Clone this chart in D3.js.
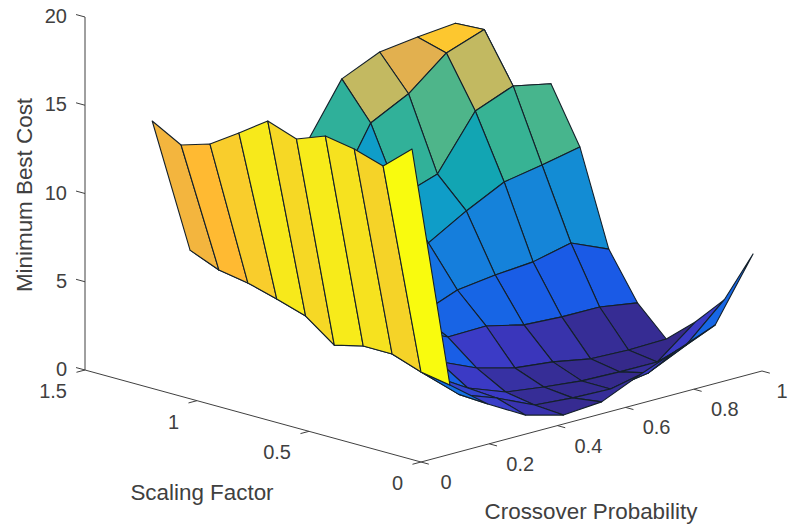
<!DOCTYPE html>
<html>
<head>
<meta charset="utf-8">
<script src="https://cdn.jsdelivr.net/npm/d3@7"></script>
<style>
  body { margin: 0; background: #fff; }
  text { font-family: "Liberation Sans", Arial, sans-serif; fill: #404040; }
</style>
</head>
<body>
<script>
var width = 788,
    height = 529;

// grid of the surface
var crossover = [0, 0.111, 0.222, 0.333, 0.444, 0.556, 0.667, 0.778, 0.889, 1];
var scaling = [0.04, 0.169, 0.298, 0.427, 0.556, 0.684, 0.813, 0.942, 1.071, 1.2];

// one row per scaling value, one column per crossover value
var cost0 = [17.59, 3.65, 2.0, 0.8, 0.23, 0.4, 1.35, 2.2, 3.04, 6.49];
var cost1 = [16.18, 3.94, 2.1, 1.32, 0.35, 0.18, 0.11, 0.45, 1.46, 3.44];
var cost2 = [16.7, 4.51, 2.75, 1.44, 0.64, 0.35, 0.12, 0.06, 0.05, 1.74];
var cost3 = [16.99, 4.52, 4.0, 2.49, 1.55, 0.98, 0.75, 0.35, 0.28, 0.33];
var cost4 = [16.37, 4.12, 4.98, 3.83, 2.86, 2.91, 2.4, 2.28, 2.27, 1.93];
var cost5 = [16.94, 5.32, 5.65, 5.08, 3.66, 4.5, 4.78, 4.95, 5.45, 4.53];
var cost6 = [15.82, 5.84, 7.0, 7.2, 6.6, 6.72, 7.96, 9.03, 9.42, 9.87];
var cost7 = [14.74, 6.3, 7.0, 7.0, 6.7, 8.88, 9.6, 12.6, 13.45, 13.0];
var cost8 = [14.24, 6.58, 7.5, 8.0, 8.83, 12.62, 13.7, 15.44, 16.2, 11.0];
var cost9 = [15.15, 7.26, 7.5, 8.0, 11.3, 14.67, 15.62, 15.9, 16.1, 11.0];
var costs = [cost0, cost1, cost2, cost3, cost4, cost5, cost6, cost7, cost8, cost9];

var xTicks = [0, 0.2, 0.4, 0.6, 0.8, 1];
var yTicks = [0, 0.5, 1, 1.5];
var zTicks = [0, 5, 10, 15, 20];

var colorStops = [0, 0.03, 0.06, 0.115, 0.125, 0.2, 0.28, 0.38, 0.46, 0.52, 0.72, 0.78, 0.83, 0.88, 0.92, 0.96, 1];
var colorValues = ["#35298a", "#37309f", "#3b38c4", "#3a3fc8", "#1a5ae6", "#1570e4", "#1585d8", "#0f9dc8",
                   "#12a6b0", "#3db590", "#c5b960", "#e3b04e", "#ffb832", "#fdc82f", "#f5d328", "#f7e81c", "#f9fb0e"];

// orthographic view: each data axis moves a point along its own screen direction
var xToPx = d3.scaleLinear().domain([0, 1]).range([0, 341]),
    xToPy = d3.scaleLinear().domain([0, 1]).range([0, -91]),
    yToPx = d3.scaleLinear().domain([0, 1.5]).range([0, -336]),
    yToPy = d3.scaleLinear().domain([0, 1.5]).range([0, -92]),
    zToPy = d3.scaleLinear().domain([0, 20]).range([0, -353]);

var originX = 421,
    originY = 462;

function project(x, y, z) {
  return [originX + xToPx(x) + yToPx(y), originY + xToPy(x) + yToPy(y) + zToPy(z)];
}

var allCosts = d3.merge(costs);
var colorT = d3.scaleLinear().domain(d3.extent(allCosts)).range([0, 1]);
var parula = d3.scaleLinear().domain(colorStops).range(colorValues);

var svg = d3.select("body").append("svg")
    .attr("width", width)
    .attr("height", height);

var line = d3.line();

// axes
var axes = svg.append("g").attr("stroke", "#404040").attr("stroke-width", 1).attr("fill", "none");

axes.append("path").attr("d", line([project(0, 0, 0), project(1, 0, 0)]));
axes.append("path").attr("d", line([project(0, 0, 0), project(0, 1.5, 0)]));
axes.append("path").attr("d", line([project(0, 1.5, 0), project(0, 1.5, 20)]));

axes.selectAll("path.x-tick").data(xTicks).enter().append("path")
    .attr("class", "x-tick")
    .attr("d", function(d) { return line([project(d, 0, 0), project(d, -0.035, 0)]); });
axes.selectAll("path.y-tick").data(yTicks).enter().append("path")
    .attr("class", "y-tick")
    .attr("d", function(d) { return line([project(0, d, 0), project(-0.025, d, 0)]); });
axes.selectAll("path.z-tick").data(zTicks).enter().append("path")
    .attr("class", "z-tick")
    .attr("d", function(d) { return line([project(0, 1.5, d), project(0, 1.54, d)]); });

// surface, painted from the far corner to the near one
var faces = [];
for (var j = scaling.length - 2; j >= 0; j--) {
  for (var i = crossover.length - 2; i >= 0; i--) {
    faces.push({i: i, j: j});
  }
}

svg.append("g").selectAll("path").data(faces).enter().append("path")
    .attr("d", function(f) {
      return line([
        project(crossover[f.i], scaling[f.j], costs[f.j][f.i]),
        project(crossover[f.i + 1], scaling[f.j], costs[f.j][f.i + 1]),
        project(crossover[f.i + 1], scaling[f.j + 1], costs[f.j + 1][f.i + 1]),
        project(crossover[f.i], scaling[f.j + 1], costs[f.j + 1][f.i])
      ]) + "Z";
    })
    .attr("fill", function(f) { return parula(colorT(costs[f.j][f.i])); })
    .attr("stroke", "#14202a")
    .attr("stroke-width", 1.1)
    .attr("stroke-linejoin", "round");

// tick labels
var labels = svg.append("g").attr("font-size", 20);

labels.selectAll("text.x").data(xTicks).enter().append("text")
    .attr("class", "x")
    .attr("text-anchor", "middle")
    .attr("x", function(d) { return project(d, 0, 0)[0] + (d === 0 ? 25 : d === 1 ? 20 : 31); })
    .attr("y", function(d) { return project(d, 0, 0)[1] + 27; })
    .text(function(d) { return d; });

labels.selectAll("text.y").data(yTicks).enter().append("text")
    .attr("class", "y")
    .attr("text-anchor", "end")
    .attr("x", function(d) { return project(0, d, 0)[0] - 18; })
    .attr("y", function(d) { return project(0, d, 0)[1] + 28; })
    .text(function(d) { return d; });

labels.selectAll("text.z").data(zTicks).enter().append("text")
    .attr("class", "z")
    .attr("text-anchor", "end")
    .attr("x", project(0, 1.5, 0)[0] - 18)
    .attr("y", function(d) { return project(0, 1.5, d)[1] + 6; })
    .text(function(d) { return d; });

// axis titles
svg.append("text")
    .attr("font-size", 22.4)
    .attr("text-anchor", "middle")
    .attr("x", 202)
    .attr("y", 500)
    .text("Scaling Factor");

svg.append("text")
    .attr("font-size", 22.4)
    .attr("text-anchor", "middle")
    .attr("x", 591)
    .attr("y", 519)
    .text("Crossover Probability");

svg.append("text")
    .attr("font-size", 22.4)
    .attr("text-anchor", "middle")
    .attr("transform", "translate(32,195) rotate(-90)")
    .text("Minimum Best Cost");
</script>
</body>
</html>
